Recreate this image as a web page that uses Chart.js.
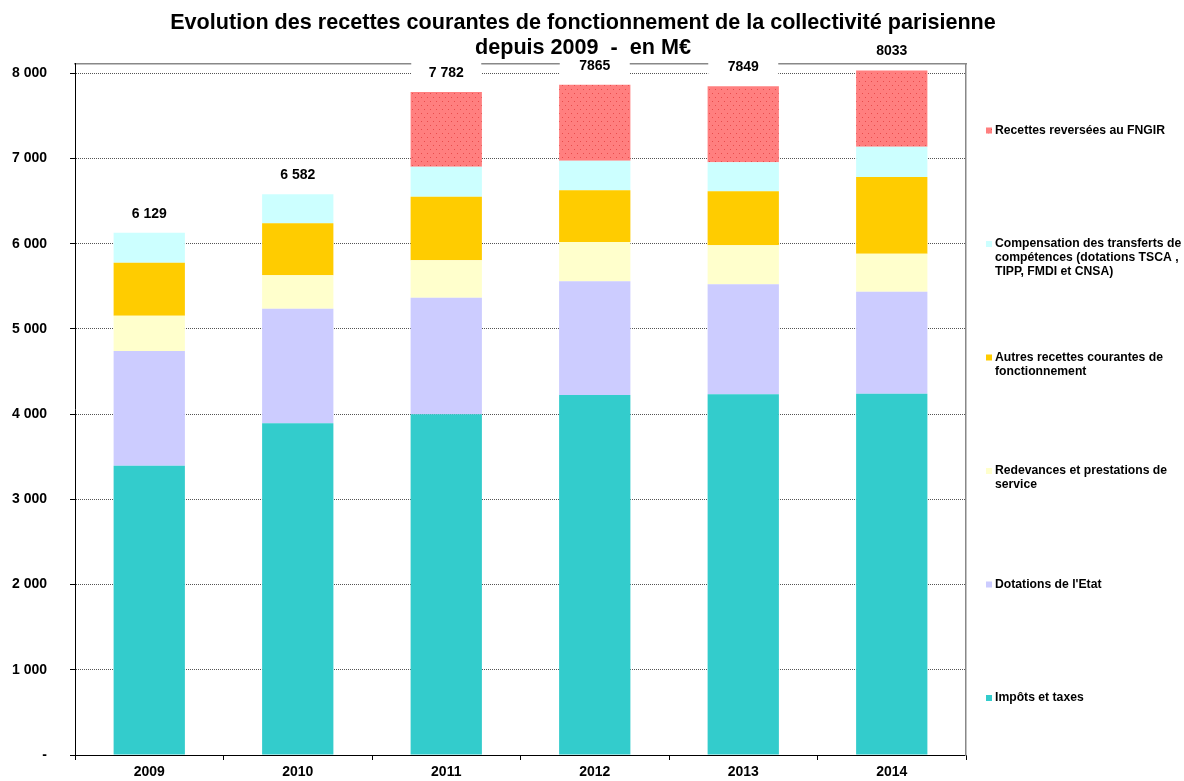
<!DOCTYPE html>
<html lang="fr">
<head>
<meta charset="utf-8">
<title>Recettes courantes de fonctionnement</title>
<script src="https://cdn.jsdelivr.net/npm/chart.js@4.4.1/dist/chart.umd.min.js"></script>
<style>
  html, body { margin: 0; padding: 0; background: #fff; }
  #wrap { width: 1184px; height: 781px; }
</style>
</head>
<body>
<div id="wrap"><canvas id="recettesChart" width="1184" height="781"></canvas></div>
<script>
// Données en M€
const annees = ['2009', '2010', '2011', '2012', '2013', '2014'];
const impots = [3396, 3893, 3999, 4225, 4234, 4241];
const dotations = [1346, 1345, 1368, 1335, 1291, 1197];
const redevances = [414, 392, 439, 461, 457, 446];
const autresRecettes = [622, 610, 747, 607, 634, 900];
const compensation = [351, 342, 351, 347, 341, 356];
const fngir = [null, null, 878, 890, 892, 893];
const totalLabels = ['6 129', '6 582', '7 782', '7865', '7849', '8033'];
const yTicks = [0, 1000, 2000, 3000, 4000, 5000, 6000, 7000, 8000];

const legendLines = [
    ['Impôts et taxes'],
    ["Dotations de l'Etat"],
    ['Redevances et prestations de', 'service'],
    ['Autres recettes courantes de', 'fonctionnement'],
    ['Compensation des transferts de', 'compétences (dotations TSCA ,', 'TIPP, FMDI et CNSA)'],
    ['Recettes reversées au FNGIR']
];

const FONT = '"Liberation Sans", Arial, sans-serif';

// motif pointillé pour le FNGIR
function motifPoints() {
    const c = document.createElement('canvas');
    c.width = 6;
    c.height = 8;
    const g = c.getContext('2d');
    g.fillStyle = '#FF7F7F';
    g.fillRect(0, 0, 6, 8);
    g.fillStyle = '#E84C4C';
    g.fillRect(1, 1, 1, 1);
    g.fillRect(4, 5, 1, 1);
    return g.createPattern(c, 'repeat');
}

const series = [impots, dotations, redevances, autresRecettes, compensation, fngir];
const couleurs = ['#33CCCC', '#CCCCFF', '#FFFFCC', '#FFCC00', '#CCFFFF', motifPoints()];

const fmt = v => v === 0 ? '-' : String(v).replace(/\B(?=(\d{3})+(?!\d))/g, ' ');

// totaux au-dessus des barres, sur fond blanc
const totauxPlugin = {
    id: 'totaux',
    afterDatasetsDraw(chart) {
        const { ctx, scales: { x, y } } = chart;
        ctx.save();
        ctx.font = 'bold 14px ' + FONT;
        ctx.textAlign = 'center';
        ctx.textBaseline = 'middle';
        annees.forEach((a, i) => {
            const total = series.reduce((s, arr) => s + (arr[i] || 0), 0);
            const px = x.getPixelForValue(i);
            const py = y.getPixelForValue(total) - 19;
            ctx.fillStyle = '#fff';
            ctx.fillRect(px - 35, py - 11, 70, 22);
            ctx.fillStyle = '#000';
            ctx.fillText(totalLabels[i], px, py);
        });
        ctx.restore();
    }
};

// légende à droite, une entrée par palier
const legendePlugin = {
    id: 'legendeDroite',
    afterDraw(chart) {
        const { ctx, chartArea } = chart;
        const x0 = chartArea.right + 20;
        ctx.save();
        ctx.font = 'bold 12.2px ' + FONT;
        ctx.textBaseline = 'middle';
        ctx.textAlign = 'left';
        chart.data.datasets.forEach((ds, i) => {
            const yy = chartArea.bottom - 57 - i * 113.5;
            ctx.fillStyle = ds.backgroundColor;
            ctx.fillRect(x0, yy - 3, 6, 6);
            ctx.fillStyle = '#000';
            legendLines[i].forEach((l, j) => ctx.fillText(l, x0 + 9, yy + j * 14));
        });
        ctx.restore();
    }
};

const ctx = document.getElementById('recettesChart').getContext('2d');
new Chart(ctx, {
    type: 'bar',
    data: {
        labels: annees,
        datasets: series.map((d, i) => ({
            label: legendLines[i].join(' '),
            data: d,
            backgroundColor: couleurs[i],
            borderWidth: 0,
            categoryPercentage: 1,
            barPercentage: 0.48
        }))
    },
    options: {
        responsive: false,
        animation: false,
        layout: { padding: { left: 0, right: 18, top: 0, bottom: 0 } },
        plugins: {
            legend: { display: false },
            tooltip: { enabled: false },
            title: {
                display: true,
                text: ['Evolution des recettes courantes de fonctionnement de la collectivité parisienne', 'depuis 2009  -  en M€'],
                color: '#000',
                font: { family: FONT, size: 21.6, weight: 'bold', lineHeight: 1.157 },
                padding: { top: 11, bottom: 3 }
            }
        },
        scales: {
            x: {
                stacked: true,
                grid: { offset: true, drawOnChartArea: false, tickLength: 5, tickColor: '#000' },
                border: { color: '#000', width: 1 },
                ticks: { color: '#000', padding: 4, font: { family: FONT, size: 14, weight: 'bold' } },
                afterFit: s => { s.height = 26; }
            },
            xTop: {
                position: 'top',
                display: true,
                grid: { display: false },
                border: { color: '#888', width: 1.5 },
                ticks: { display: false },
                afterFit: s => { s.height = 0; }
            },
            y: {
                stacked: true,
                min: 0,
                max: 8110,
                afterBuildTicks: s => { s.ticks = yTicks.map(v => ({ value: v })); },
                grid: {
                    color: c => c.tick && c.tick.value === 0 ? 'rgba(0,0,0,0)' : '#555',
                    tickLength: 5,
                    tickColor: '#000'
                },
                border: { color: '#000', width: 1, dash: [1, 1] },
                ticks: { color: '#000', padding: 23, callback: v => fmt(v), font: { family: FONT, size: 14, weight: 'bold' } },
                afterFit: s => {
                    s.width = 75;
                    s.paddingTop = 0;
                    s.paddingBottom = 0;
                }
            },
            yDroite: {
                position: 'right',
                display: true,
                min: 0,
                max: 1,
                grid: { display: false },
                border: { color: '#888', width: 1.5 },
                ticks: { display: false },
                afterFit: s => { s.width = 200; }
            }
        }
    },
    plugins: [totauxPlugin, legendePlugin]
});
</script>
</body>
</html>
